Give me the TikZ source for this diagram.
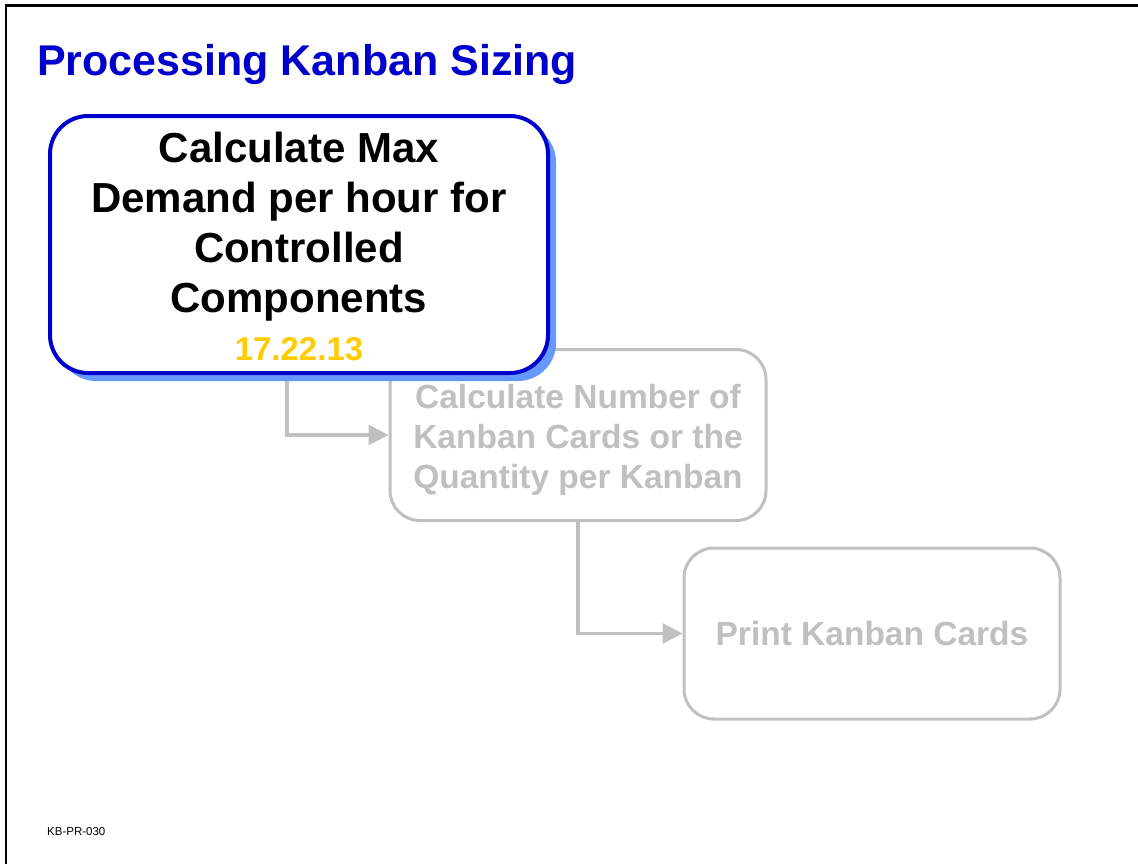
\documentclass[tikz,border=0pt]{standalone}
\usepackage{fontspec}
\setmainfont{Liberation Sans}
\usetikzlibrary{arrows.meta,shadows}
\definecolor{titleblue}{RGB}{0,0,204}
\definecolor{shadowblue}{RGB}{102,153,255}
\definecolor{codeyellow}{RGB}{255,204,0}
\definecolor{fadegray}{RGB}{192,192,192}
% lower a block of centred lines without changing its reported size
\newcommand{\droptext}[2]{\raisebox{-#1}[\height][\depth]{\begin{tabular}{@{}c@{}}#2\end{tabular}}}
\tikzset{
  activebox/.style={draw=titleblue, line width=4pt, fill=white, rounded corners=38pt,
    minimum width=498pt, minimum height=257pt, inner sep=0pt,
    font=\bfseries\fontsize{42}{50}\selectfont,
    drop shadow={shadow xshift=8pt, shadow yshift=-8pt, fill=shadowblue, opacity=1}},
  fadedbox/.style={draw=fadegray, line width=3pt, fill=white, rounded corners=30pt,
    minimum width=376pt, minimum height=171pt, inner sep=0pt,
    text=fadegray, font=\bfseries\fontsize{33.5}{40}\selectfont},
  flow/.style={draw=fadegray, line width=3.2pt,
    -{Triangle[length=20pt,width=20pt]}, fadegray}
}
\begin{document}
\begin{tikzpicture}[x=1pt,y=-1pt]
\useasboundingbox (0,0) rectangle (1138,863);
% page frame (top and left edges)
\draw[line width=2.5pt] (6.2,870) -- (6.2,5.5) -- (1145,5.5);
% heading
\node[anchor=base west, inner sep=0pt, text=titleblue,
  font=\bfseries\fontsize{43}{50}\selectfont] (title) at (37,75) {Processing Kanban Sizing};
% process steps
\node[fadedbox] (count) at (578,435) {\droptext{5pt}{Calculate Number of\\Kanban Cards or the\\Quantity per Kanban}};
\node[fadedbox] (print) at (872,633.5) {Print Kanban Cards};
% connectors
\coordinate (start1) at (287,370);
\draw[flow] (start1) |- (count.west);
\draw[flow] (count.south) |- (print.west);
% current step
\node[activebox] (main) at (299,244.5) {\droptext{7pt}{Calculate Max\\Demand per hour for\\Controlled\\Components\\[-2pt]{\fontsize{33}{36}\selectfont\color{codeyellow}17.22.13}}};
% footer code
\node[anchor=base west, inner sep=0pt, font=\fontsize{11.5}{13}\selectfont] (code) at (47,835) {KB-PR-030};
\end{tikzpicture}
\end{document}
